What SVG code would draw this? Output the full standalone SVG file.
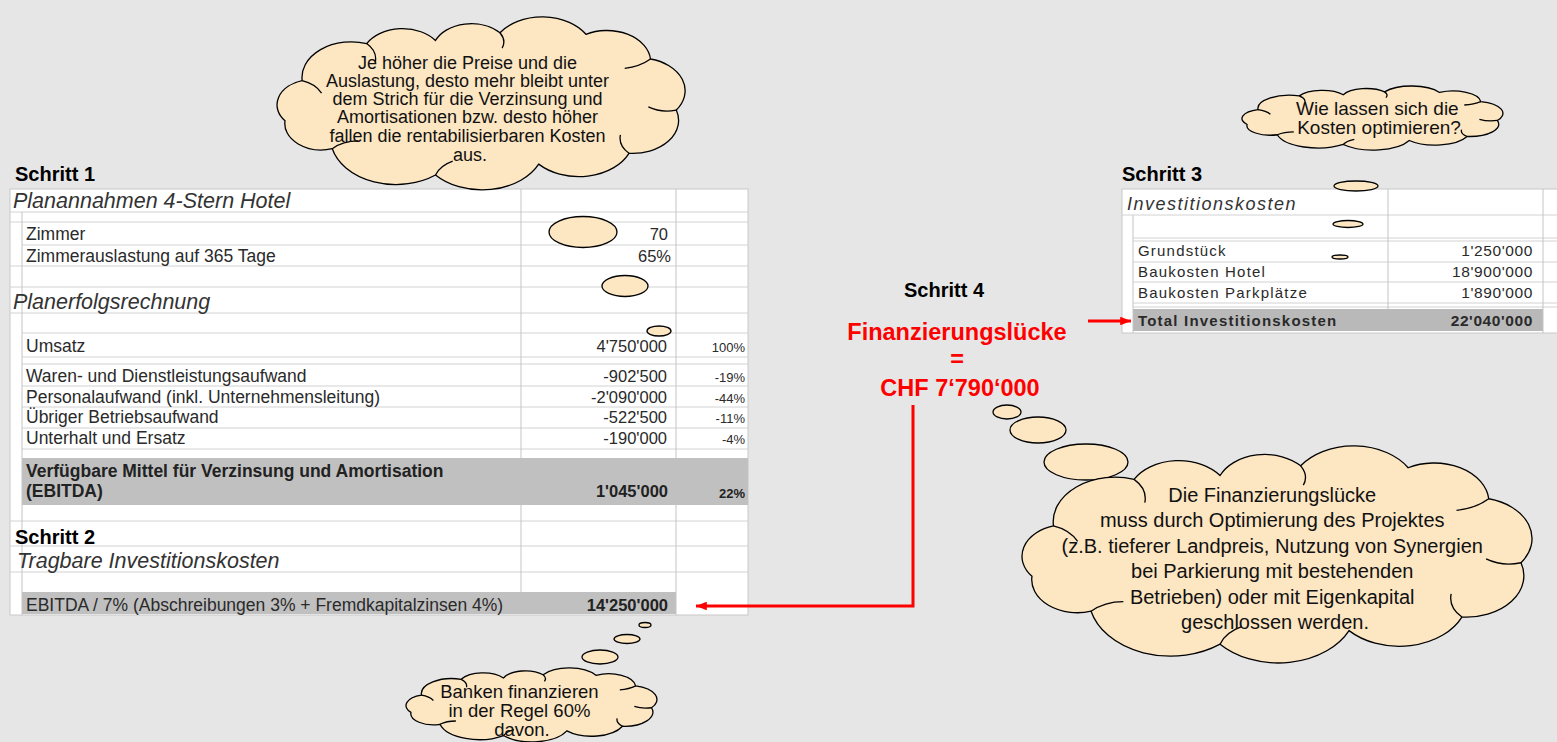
<svg xmlns="http://www.w3.org/2000/svg" xmlns:xlink="http://www.w3.org/1999/xlink" width="1557" height="742" viewBox="0 0 1557 742">
  <style>
    .bg { fill: #e6e6e6; }
    .sheet { fill: #ffffff; stroke: #c8c8c8; stroke-width: 1; }
    .grid { stroke: #d2d2d2; stroke-width: 1; fill: none; }
    .vgrid { stroke: #c4c4c4; stroke-width: 1; fill: none; }
    .band { fill: #c0c0c0; }
    .band2 { fill: #b9b9b9; }
    .cloud { fill: #fde6c2; stroke: #000; stroke-width: 1.3; vector-effect: non-scaling-stroke; }
    .cloudline { fill: none; stroke: #000; stroke-width: 1.3; vector-effect: non-scaling-stroke; }
    .bubble { fill: #fde6c2; stroke: #000; stroke-width: 1.3; }
    .ct { font-family: "Liberation Sans", Arial, sans-serif; fill: #111; text-anchor: middle; }
    .step { font-family: "Liberation Sans", Arial, sans-serif; font-weight: bold; font-size: 20px; fill: #000; }
    .lbl { font-family: "Liberation Sans", Arial, sans-serif; font-size: 17.5px; fill: #2a2a2a; }
    .num { font-family: "Liberation Sans", Arial, sans-serif; font-size: 16.5px; fill: #2a2a2a; text-anchor: end; }
    .pct { font-family: "Liberation Sans", Arial, sans-serif; font-size: 13px; fill: #2a2a2a; text-anchor: end; }
    .hdr { font-family: "Liberation Sans", Arial, sans-serif; font-style: italic; font-size: 21.5px; fill: #333; }
    .bold { font-weight: bold; fill: #222; }
    .rlbl { font-family: "Liberation Sans", Arial, sans-serif; font-size: 15px; letter-spacing: 1.2px; fill: #2a2a2a; }
    .rnum { font-family: "Liberation Sans", Arial, sans-serif; font-size: 15.5px; letter-spacing: 0.6px; fill: #2a2a2a; text-anchor: end; }
    .rhdr { font-family: "Liberation Sans", Arial, sans-serif; font-style: italic; font-size: 18px; letter-spacing: 1.5px; fill: #333; }
    .red { font-family: "Liberation Sans", Arial, sans-serif; font-weight: bold; font-size: 23.5px; fill: #ff0000; text-anchor: middle; }
    .arrow { fill: none; stroke: #ff0000; stroke-width: 3; }
  </style>
  <defs>
    <!-- cloud outline drawn in a 200 x 100 box, scaled per use -->
    <g id="cloudShape">
      <path class="cloud" d="M18,36 A23,23 0 0 1 48,12 A19.2,19.2 0 0 1 80,10 A18.2,18.2 0 0 1 110,5 A24,24 0 0 1 150,6 A20.4,20.4 0 0 1 180,22 A21.1,21.1 0 0 1 192,55 A21.4,21.4 0 0 1 170,83 A25.6,25.6 0 0 1 128,90 A29.1,29.1 0 0 1 80,97 A30.5,30.5 0 0 1 32,80 A17,17 0 0 1 10,62 A16.3,16.3 0 0 1 18,36 Z"/>
      <path class="cloudline" d="M48,12 Q53,17 52,24 M110,5 Q113,10 111,15 M180,22 Q175,27 168,28 M192,55 Q185,57 179,53 M170,83 Q165,78 166,71 M80,97 Q82,91 88,88 M32,80 Q37,75 44,75 M18,36 Q24,38 27,44"/>
    </g>
    <marker id="head" viewBox="0 0 10 8" refX="10" refY="4" markerWidth="3.6" markerHeight="2.9" orient="auto" markerUnits="strokeWidth">
      <path d="M0,0 L10,4 L0,8 Z" fill="#ff0000"/>
    </marker>
  </defs>

  <rect class="bg" x="0" y="0" width="1557" height="742"/>

  <!-- Step 1 / Step 2: operating plan table -->
  <g id="table-plan">
    <text class="step" x="15" y="181">Schritt 1</text>
    <rect class="sheet" x="10" y="189" width="738" height="426"/>
    <rect class="band" x="22" y="458" width="726" height="47"/>
    <rect class="band" x="22" y="592" width="654" height="22"/>
    <path class="grid" d="M10,212 H748 M10,222 H748 M22,245 H748 M10,266 H748 M10,287 H748 M10,313 H748 M22,333 H748 M22,357 H748 M22,364 H748 M22,386 H748 M22,407 H748 M22,428 H748 M22,449 H748 M10,521 H748 M10,546 H748 M10,572 H748"/>
    <path class="vgrid" d="M521,189 V458 M521,505 V592 M676,189 V458 M676,505 V615 M22,212 V615"/>

    <text class="hdr" x="13" y="208">Planannahmen 4-Stern Hotel</text>
    <text class="lbl" x="26" y="240">Zimmer</text>
    <text class="num" x="668" y="240">70</text>
    <text class="lbl" x="26" y="262">Zimmerauslastung auf 365 Tage</text>
    <text class="num" x="671" y="262">65%</text>

    <text class="hdr" x="13" y="309">Planerfolgsrechnung</text>
    <text class="lbl" x="26" y="352">Umsatz</text>
    <text class="num" x="667" y="352">4'750'000</text>
    <text class="pct" x="745" y="352">100%</text>
    <text class="lbl" x="26" y="382">Waren- und Dienstleistungsaufwand</text>
    <text class="num" x="667" y="382">-902'500</text>
    <text class="pct" x="745" y="382">-19%</text>
    <text class="lbl" x="26" y="403">Personalaufwand (inkl. Unternehmensleitung)</text>
    <text class="num" x="667" y="403">-2'090'000</text>
    <text class="pct" x="745" y="403">-44%</text>
    <text class="lbl" x="26" y="423">Übriger Betriebsaufwand</text>
    <text class="num" x="667" y="423">-522'500</text>
    <text class="pct" x="745" y="423">-11%</text>
    <text class="lbl" x="26" y="444">Unterhalt und Ersatz</text>
    <text class="num" x="667" y="444">-190'000</text>
    <text class="pct" x="745" y="444">-4%</text>

    <text class="lbl bold" x="26" y="477" font-size="18">Verfügbare Mittel für Verzinsung und Amortisation</text>
    <text class="lbl bold" x="26" y="497" font-size="18">(EBITDA)</text>
    <text class="num bold" x="668" y="497">1'045'000</text>
    <text class="pct bold" x="745" y="498">22%</text>

    <text class="step" x="15" y="544">Schritt 2</text>
    <text class="hdr" x="17" y="568">Tragbare Investitionskosten</text>
    <text class="lbl" x="26" y="611">EBITDA / 7% (Abschreibungen 3% + Fremdkapitalzinsen 4%)</text>
    <text class="num bold" x="668" y="611">14'250'000</text>
  </g>

  <!-- Step 3: investment cost table -->
  <g id="table-invest">
    <text class="step" x="1122" y="181">Schritt 3</text>
    <rect class="sheet" x="1122" y="189" width="440" height="144"/>
    <rect class="band2" x="1133" y="309" width="410" height="22"/>
    <path class="grid" d="M1122,215 H1557 M1133,238 H1557 M1133,241 H1557 M1133,262 H1557 M1133,282 H1557 M1133,303 H1557 M1133,307 H1557"/>
    <path class="vgrid" d="M1388,189 V309 M1543,189 V333 M1133,215 V333"/>
    <text class="rhdr" x="1127" y="210">Investitionskosten</text>
    <text class="rlbl" x="1138" y="256">Grundstück</text>
    <text class="rnum" x="1533" y="256">1'250'000</text>
    <text class="rlbl" x="1138" y="277">Baukosten Hotel</text>
    <text class="rnum" x="1533" y="277">18'900'000</text>
    <text class="rlbl" x="1138" y="298">Baukosten Parkplätze</text>
    <text class="rnum" x="1533" y="298">1'890'000</text>
    <text class="rlbl" x="1138" y="326" font-weight="bold" fill="#111">Total Investitionskosten</text>
    <text class="rnum" x="1533" y="326" font-weight="bold" fill="#111">22'040'000</text>
  </g>

  <!-- Step 4: financing gap -->
  <g id="gap">
    <text class="step" x="944" y="297" text-anchor="middle">Schritt 4</text>
    <text class="red" x="957" y="340">Finanzierungslücke</text>
    <text class="red" x="957" y="367">=</text>
    <text class="red" x="960" y="396">CHF 7‘790‘000</text>
  </g>

  <!-- red arrows -->
  <g id="connectors">
    <path class="arrow" d="M913,405 V606 H696" marker-end="url(#head)"/>
    <path class="arrow" d="M1088,321 H1131" marker-end="url(#head)"/>
  </g>

  <!-- cloud: prices and occupancy -->
  <g id="cloud-prices">
    <ellipse class="bubble" cx="583" cy="232" rx="34" ry="15.5"/>
    <ellipse class="bubble" cx="625" cy="286" rx="23" ry="10.5"/>
    <ellipse class="bubble" cx="659" cy="331" rx="12" ry="5"/>
    <use xlink:href="#cloudShape" transform="translate(263.5 25) scale(2.15 1.546)"/>
    <text class="ct" font-size="18">
      <tspan x="470" y="69">Je höher die Preise und die</tspan>
      <tspan x="470" y="87">Auslastung, desto mehr bleibt unter</tspan>
      <tspan x="470" y="105">dem Strich für die Verzinsung und</tspan>
      <tspan x="470" y="123">Amortisationen bzw. desto höher</tspan>
      <tspan x="470" y="142">fallen die rentabilisierbaren Kosten</tspan>
      <tspan x="470" y="161">aus.</tspan>
    </text>
  </g>

  <!-- cloud: cost optimisation question -->
  <g id="cloud-costs">
    <ellipse class="bubble" cx="1356" cy="186" rx="22" ry="5"/>
    <ellipse class="bubble" cx="1348" cy="224" rx="15" ry="3.5"/>
    <ellipse class="bubble" cx="1340" cy="257" rx="8" ry="2"/>
    <use xlink:href="#cloudShape" transform="translate(1233.3 89) scale(1.375 0.572)"/>
    <text class="ct" font-size="19">
      <tspan x="1380" y="115">Wie lassen sich die</tspan>
      <tspan x="1379" y="134">Kosten optimieren?</tspan>
    </text>
  </g>

  <!-- cloud: closing the gap -->
  <g id="cloud-gap">
    <ellipse class="bubble" cx="1007" cy="412" rx="14" ry="7"/>
    <ellipse class="bubble" cx="1038" cy="430" rx="28" ry="13"/>
    <ellipse class="bubble" cx="1086" cy="462" rx="42" ry="18"/>
    <use xlink:href="#cloudShape" transform="translate(1005.1 456.1) scale(2.687 1.939)"/>
    <text class="ct" font-size="20">
      <tspan x="1275" y="502">Die Finanzierungslücke</tspan>
      <tspan x="1275" y="527">muss durch Optimierung des Projektes</tspan>
      <tspan x="1275" y="553">(z.B. tieferer Landpreis, Nutzung von Synergien</tspan>
      <tspan x="1275" y="578">bei Parkierung mit bestehenden</tspan>
      <tspan x="1275" y="604">Betrieben) oder mit Eigenkapital</tspan>
      <tspan x="1275" y="629">geschlossen werden.</tspan>
    </text>
  </g>

  <!-- cloud: bank share -->
  <g id="cloud-banks">
    <ellipse class="bubble" cx="645" cy="625" rx="6" ry="2.5"/>
    <ellipse class="bubble" cx="627" cy="639" rx="13" ry="4.5"/>
    <ellipse class="bubble" cx="600" cy="657" rx="18" ry="7"/>
    <use xlink:href="#cloudShape" transform="translate(397.7 671.4) scale(1.322 0.661)"/>
    <text class="ct" font-size="18.5">
      <tspan x="522" y="698">Banken finanzieren</tspan>
      <tspan x="522" y="717">in der Regel 60%</tspan>
      <tspan x="522" y="736">davon.</tspan>
    </text>
  </g>
</svg>
